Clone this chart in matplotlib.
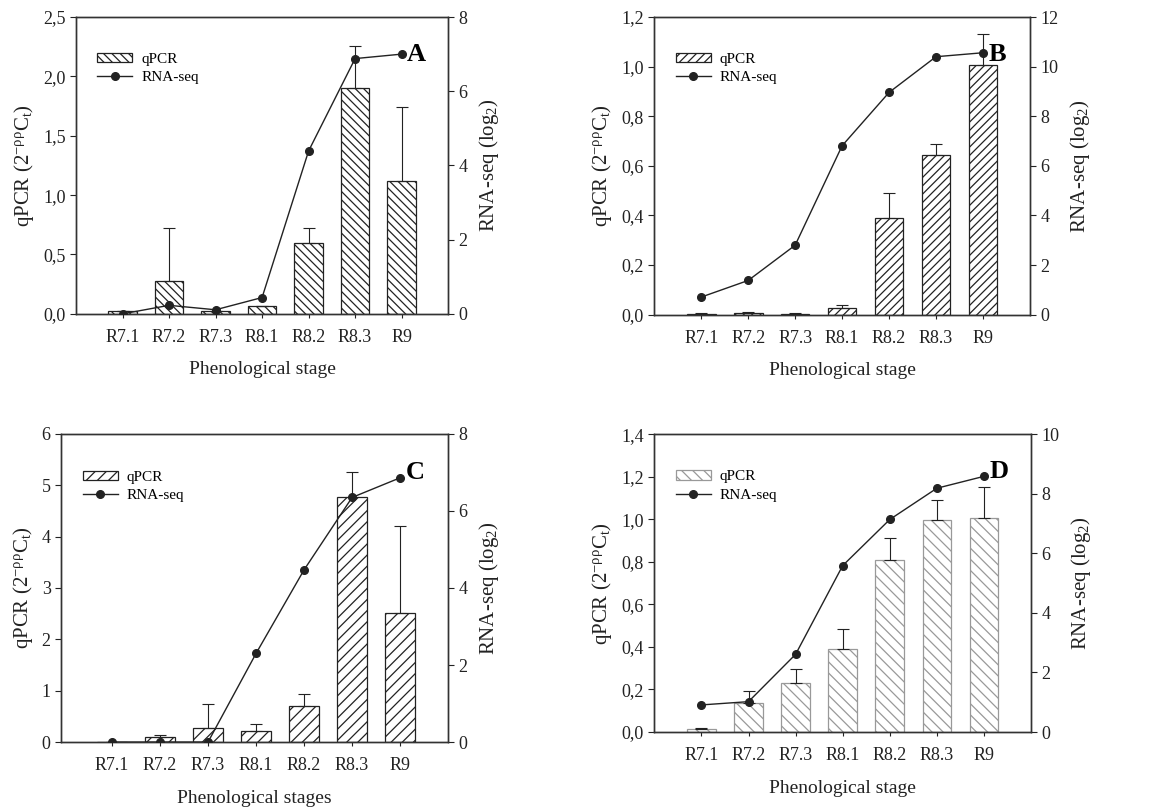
import matplotlib
matplotlib.use("Agg")
import matplotlib.pyplot as plt
from matplotlib.ticker import FuncFormatter
import numpy as np

plt.rcParams['font.family'] = ['Liberation Serif', 'DejaVu Serif']
plt.rcParams['mathtext.fontset'] = 'custom'
plt.rcParams['mathtext.rm'] = 'Liberation Serif'
plt.rcParams['mathtext.it'] = 'Liberation Serif:italic'
plt.rcParams['hatch.linewidth'] = 0.9

stages = ["R7.1", "R7.2", "R7.3", "R8.1", "R8.2", "R8.3", "R9"]

# panel A
qpcr_a = [0.02, 0.28, 0.02, 0.07, 0.60, 1.90, 1.12]
sd_a = [0.0, 0.44, 0.0, 0.0, 0.12, 0.36, 0.62]
rna_a = [0.0, 0.23, 0.11, 0.44, 4.39, 6.88, 7.0]

# panel B
qpcr_b = [0.003, 0.005, 0.004, 0.025, 0.39, 0.645, 1.005]
sd_b = [0.002, 0.004, 0.002, 0.015, 0.10, 0.045, 0.125]
rna_b = [0.71, 1.38, 2.80, 6.81, 8.96, 10.40, 10.56]

# panel C
qpcr_c = [0.0, 0.10, 0.28, 0.22, 0.71, 4.77, 2.52]
sd_c = [0.0, 0.04, 0.47, 0.14, 0.22, 0.48, 1.68]
rna_c = [0.0, 0.0, 0.0, 2.30, 4.47, 6.35, 6.86]

# panel D
qpcr_d = [0.013, 0.136, 0.229, 0.391, 0.811, 0.999, 1.007]
sd_d = [0.004, 0.058, 0.067, 0.094, 0.10, 0.091, 0.147]
rna_d = [0.91, 1.02, 2.61, 5.59, 7.14, 8.19, 8.59]

ylabel_left = r'qPCR (2$^{-\mathrm{ρρ}}$C$_\mathrm{t}$)'
ylabel_right = r'RNA-seq (log$_2$)'

dark = '#222222'


def comma(dec):
    if dec == 0:
        return FuncFormatter(lambda v, p: f"{v:.0f}")
    return FuncFormatter(lambda v, p: f"{v:.{dec}f}".replace('.', ','))


def panel(rect, qpcr, sd, rna, ylim, ystep, ydec, y2lim, y2step, hatch,
          edge, letter, xlabel, xleft=-1.0):
    ax = fig.add_axes(rect)
    x = np.arange(len(stages))
    ax.bar(x, qpcr, width=0.61, color='white', edgecolor=edge,
           hatch=hatch, linewidth=0.9, zorder=2,
           label='qPCR')
    ax.errorbar(x, qpcr, yerr=[np.zeros(len(sd)), sd], fmt='none',
                ecolor=dark, elinewidth=0.8, capsize=4, capthick=0.8,
                zorder=3)
    ax.set_xlim(xleft, 7)
    ax.set_ylim(*ylim)
    ax.set_yticks(np.arange(ylim[0], ylim[1] + ystep / 2, ystep))
    ax.yaxis.set_major_formatter(comma(ydec))
    ax.set_xticks(x)
    ax.set_xticklabels(stages)
    ax.tick_params(labelsize=13, colors=dark, length=4, width=0.8)
    ax.tick_params(axis='x', length=3, pad=8)
    for s in ax.spines.values():
        s.set_color('#333333')
        s.set_linewidth(1.0)
    ax.set_xlabel(xlabel, fontsize=14, color=dark, labelpad=11)
    ax.set_ylabel(ylabel_left, fontsize=15, color=dark, labelpad=5)

    ax2 = ax.twinx()
    ax2.plot(x, rna, color=dark, lw=1.0, marker='o', markersize=5.5,
             label='RNA-seq', zorder=4)
    ax2.set_ylim(*y2lim)
    ax2.set_yticks(np.arange(y2lim[0], y2lim[1] + 0.1, y2step))
    ax2.yaxis.set_major_formatter(comma(0))
    ax2.tick_params(labelsize=13, colors=dark, length=4, width=0.8)
    for s in ax2.spines.values():
        s.set_color('#333333')
        s.set_linewidth(1.0)
    ax2.set_ylabel(ylabel_right, fontsize=15, color=dark, labelpad=7)

    h1, l1 = ax.get_legend_handles_labels()
    h2, l2 = ax2.get_legend_handles_labels()
    ax2.legend(h1 + h2, l1 + l2, loc='upper left', frameon=False,
               bbox_to_anchor=(0.02, 0.925), fontsize=11,
               handlelength=2.3, handleheight=0.55, handletextpad=0.6,
               labelspacing=0.35)
    ax2.text(0.89, 0.875, letter, transform=ax2.transAxes, fontsize=19,
             fontweight='bold', ha='left', va='center', color='black')


fig = plt.figure(figsize=(11.52, 8.11), dpi=100)

panel([0.066, 0.613, 0.323, 0.366], qpcr_a, sd_a, rna_a, (0, 2.5), 0.5, 1,
      (0, 8), 2, '\\\\\\\\', '#222222', 'A', 'Phenological stage')
panel([0.568, 0.612, 0.326, 0.367], qpcr_b, sd_b, rna_b, (0, 1.2), 0.2, 1,
      (0, 12), 2, '////', '#222222', 'B', 'Phenological stage')
panel([0.053, 0.085, 0.336, 0.380], qpcr_c, sd_c, rna_c, (0, 6), 1, 0,
      (0, 8), 2, '///', '#222222', 'C', 'Phenological stages', xleft=-1.06)
panel([0.568, 0.0974, 0.327, 0.367], qpcr_d, sd_d, rna_d, (0, 1.4), 0.2, 1,
      (0, 10), 2, '\\\\\\', '#999999', 'D', 'Phenological stage')

fig.savefig('out.png', dpi=100)
